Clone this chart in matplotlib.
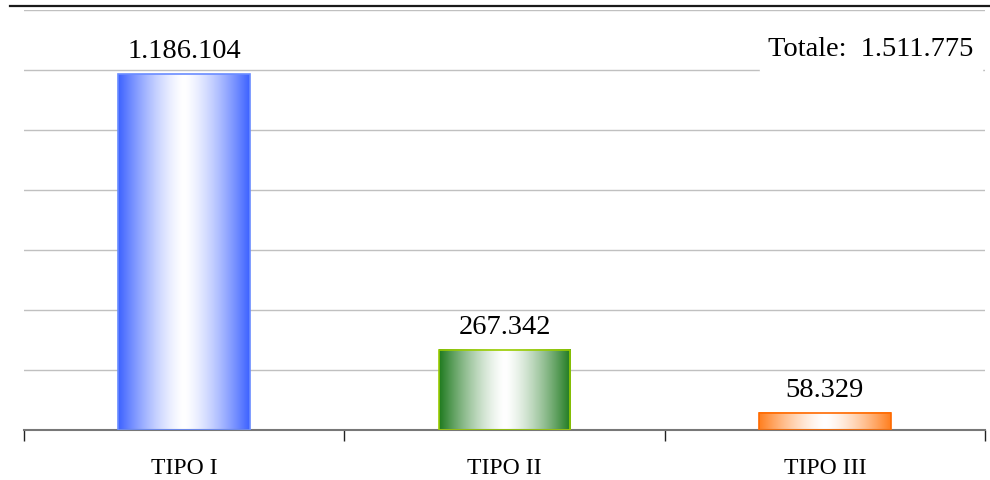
import numpy as np
import matplotlib.pyplot as plt
from matplotlib.colors import LinearSegmentedColormap
from matplotlib.lines import Line2D

# data
categories = ['TIPO I', 'TIPO II', 'TIPO III']
values = [1186104, 267342, 58329]
total = 1511775

def fmt(v):
    return f'{v:,}'.replace(',', '.')

edge_cols = ['#3d62ff', '#1f7a1f', '#ff7f1f']
border_cols = ['#6a8cff', '#99cc00', '#ff6a00']

plt.rcParams['font.family'] = ['Liberation Serif', 'DejaVu Serif']

fig = plt.figure(figsize=(9.9, 4.8), dpi=100)
ax = fig.add_axes([24/990, 50/480, 961/990, 420/480])

x = np.arange(len(categories))
bars = ax.bar(x, values, width=0.41, color='none', edgecolor=border_cols, linewidth=1.2, zorder=3)

# horizontal gradient: edge colour -> white -> edge colour
t = np.abs(np.linspace(-1, 1, 256)) ** 1.4
for b, c in zip(bars, edge_cols):
    cmap = LinearSegmentedColormap.from_list('g', ['white', c])
    x0, w, h = b.get_x(), b.get_width(), b.get_height()
    ax.imshow(t[np.newaxis, :], cmap=cmap, vmin=0, vmax=1, aspect='auto',
              extent=(x0, x0 + w, 0, h), zorder=2, interpolation='bilinear')
    ax.annotate(fmt(int(h)), (x0 + w / 2, h), xytext=(0, 7), textcoords='offset points',
                ha='center', va='bottom', fontsize=20.5)

ax.set_xlim(-0.5, 2.5)
ax.set_ylim(0, 1400000)
ax.set_yticks(np.arange(0, 1400001, 200000))
ax.yaxis.grid(True, color='#c0c0c0', linewidth=1)
ax.set_axisbelow(True)
ax.tick_params(axis='y', left=False, labelleft=False)

ax.set_xticks(x)
ax.set_xticklabels(categories, fontsize=17)
ax.set_xticks([-0.5, 0.5, 1.5, 2.5], minor=True)
ax.tick_params(axis='x', which='major', length=0, pad=20)
ax.tick_params(axis='x', which='minor', length=8, width=1, color='#222222', direction='out')

for s in ['top', 'left', 'right']:
    ax.spines[s].set_visible(False)
ax.spines['bottom'].set_color('#777777')
ax.spines['bottom'].set_linewidth(1.5)

ax.text(0.881, 0.905, 'Totale:  ' + fmt(total), transform=ax.transAxes,
        ha='center', va='center', fontsize=20.5,
        bbox=dict(facecolor='white', edgecolor='white', pad=6))

fig.add_artist(Line2D([10/990, 1], [474/480, 474/480], color='#1a1a1a', linewidth=1.6))

fig.savefig('out.png', dpi=100)
